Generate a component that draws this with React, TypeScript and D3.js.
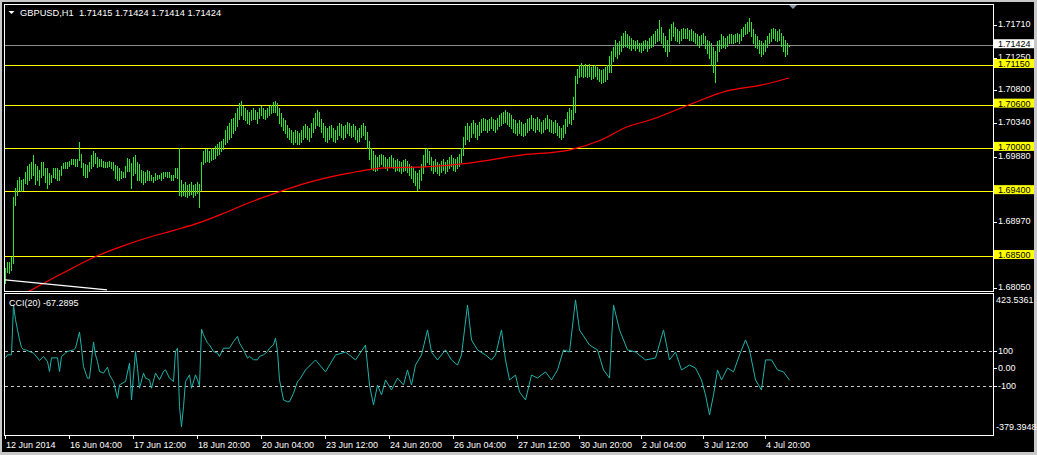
import React from "react";
import * as d3 from "d3";

const W = 1037;
const H = 455;

const symbolTitle = "GBPUSD,H1  1.71415 1.71424 1.71414 1.71424";
const cciTitle = "CCI(20) -67.2895";

const highs = [
  1.6833, 1.6842, 1.6842, 1.6848, 1.6932, 1.6944, 1.6955, 1.6960, 1.6955, 1.6957,
  1.6966, 1.6975, 1.6978, 1.6980, 1.6990, 1.6978, 1.6975, 1.6970, 1.6980, 1.6980,
  1.6972, 1.6972, 1.6965, 1.6962, 1.6972, 1.6972, 1.6972, 1.6970, 1.6975, 1.6979,
  1.6980, 1.6981, 1.6982, 1.6984, 1.6985, 1.6985, 1.6985, 1.7008, 1.6992, 1.6979,
  1.6978, 1.6976, 1.6980, 1.6990, 1.6995, 1.6993, 1.6987, 1.6985, 1.6984, 1.6982,
  1.6980, 1.6980, 1.6982, 1.6980, 1.6980, 1.6976, 1.6975, 1.6972, 1.6968, 1.6966,
  1.6975, 1.6986, 1.6985, 1.6979, 1.6988, 1.6990, 1.6980, 1.6978, 1.6970, 1.6968,
  1.6966, 1.6970, 1.6968, 1.6962, 1.6960, 1.6965, 1.6963, 1.6962, 1.6965, 1.6966,
  1.6966, 1.6967, 1.6966, 1.6962, 1.6963, 1.6972, 1.6972, 1.7000, 1.6955, 1.6950,
  1.6952, 1.6948, 1.6950, 1.6953, 1.6948, 1.6950, 1.6953, 1.6950, 1.6980, 1.6995,
  1.6998, 1.6998, 1.6995, 1.7000, 1.6998, 1.7002, 1.7005, 1.7008, 1.7010, 1.7012,
  1.7025, 1.7030, 1.7035, 1.7040, 1.7042, 1.7048, 1.7055, 1.7062, 1.7065, 1.7058,
  1.7055, 1.7052, 1.7050, 1.7052, 1.7055, 1.7053, 1.7050, 1.7055, 1.7058, 1.7055,
  1.7052, 1.7055, 1.7058, 1.7060, 1.7063, 1.7065, 1.7062, 1.7055, 1.7048, 1.7042,
  1.7038, 1.7032, 1.7028, 1.7025, 1.7022, 1.7025, 1.7023, 1.7020, 1.7025, 1.7030,
  1.7033, 1.7030, 1.7028, 1.7035, 1.7042, 1.7048, 1.7052, 1.7050, 1.7040, 1.7035,
  1.7030, 1.7028, 1.7030, 1.7032, 1.7028, 1.7025, 1.7030, 1.7035, 1.7033, 1.7030,
  1.7032, 1.7036, 1.7035, 1.7030, 1.7033, 1.7030, 1.7025, 1.7028, 1.7032, 1.7035,
  1.7030, 1.7022, 1.7010, 1.7000, 1.6995, 1.6990, 1.6988, 1.6990, 1.6992, 1.6990,
  1.6988, 1.6985, 1.6988, 1.6990, 1.6986, 1.6983, 1.6985, 1.6982, 1.6980, 1.6983,
  1.6985, 1.6982, 1.6978, 1.6975, 1.6972, 1.6968, 1.6965, 1.6970, 1.6978, 1.6990,
  1.6998, 1.7000, 1.6995, 1.6988, 1.6982, 1.6985, 1.6980, 1.6978, 1.6982, 1.6985,
  1.6980, 1.6983, 1.6988, 1.6990, 1.6986, 1.6984, 1.6988, 1.6992, 1.7000, 1.7015,
  1.7030, 1.7035, 1.7030, 1.7035, 1.7038, 1.7035, 1.7032, 1.7036, 1.7040, 1.7042,
  1.7040, 1.7038, 1.7040, 1.7043, 1.7040, 1.7038, 1.7042, 1.7045, 1.7048, 1.7050,
  1.7052, 1.7050, 1.7048, 1.7045, 1.7040, 1.7038, 1.7035, 1.7038, 1.7036, 1.7033,
  1.7035, 1.7040, 1.7042, 1.7045, 1.7042, 1.7040, 1.7043, 1.7040, 1.7036, 1.7038,
  1.7042, 1.7045, 1.7040, 1.7038, 1.7036, 1.7038, 1.7035, 1.7030, 1.7028, 1.7032,
  1.7040, 1.7050, 1.7055, 1.7052, 1.7070, 1.7100, 1.7110, 1.7115, 1.7118, 1.7115,
  1.7116, 1.7114, 1.7116, 1.7112, 1.7113, 1.7115, 1.7112, 1.7110, 1.7108, 1.7110,
  1.7112, 1.7115, 1.7128, 1.7135, 1.7140, 1.7150, 1.7145, 1.7148, 1.7155, 1.7160,
  1.7162, 1.7158, 1.7155, 1.7152, 1.7150, 1.7148, 1.7150, 1.7146, 1.7145, 1.7148,
  1.7150, 1.7148, 1.7152, 1.7155, 1.7158, 1.7162, 1.7165, 1.7178, 1.7168, 1.7160,
  1.7155, 1.7150, 1.7165, 1.7172, 1.7175, 1.7168, 1.7165, 1.7162, 1.7165, 1.7166,
  1.7165, 1.7166, 1.7164, 1.7165, 1.7162, 1.7160, 1.7158, 1.7155, 1.7157, 1.7160,
  1.7155, 1.7150, 1.7148, 1.7145, 1.7140, 1.7135, 1.7148, 1.7150, 1.7158, 1.7155,
  1.7152, 1.7155, 1.7158, 1.7158, 1.7156, 1.7158, 1.7160, 1.7158, 1.7165, 1.7168,
  1.7172, 1.7175, 1.7180, 1.7175, 1.7165, 1.7158, 1.7155, 1.7150, 1.7148, 1.7145,
  1.7150, 1.7155, 1.7160, 1.7165, 1.7166, 1.7165, 1.7162, 1.7165, 1.7160, 1.7155,
  1.7150, 1.7145, 1.71424,
];

const lows = [
  1.6812, 1.6828, 1.6826, 1.6831, 1.6840, 1.6921, 1.6935, 1.6942, 1.6940, 1.6942,
  1.6951, 1.6950, 1.6955, 1.6958, 1.6962, 1.6950, 1.6955, 1.6948, 1.6960, 1.6962,
  1.6952, 1.6945, 1.6950, 1.6953, 1.6960, 1.6958, 1.6955, 1.6956, 1.6963, 1.6972,
  1.6972, 1.6972, 1.6975, 1.6977, 1.6978, 1.6975, 1.6975, 1.6983, 1.6973, 1.6962,
  1.6960, 1.6960, 1.6968, 1.6972, 1.6975, 1.6979, 1.6973, 1.6975, 1.6975, 1.6973,
  1.6973, 1.6973, 1.6975, 1.6972, 1.6970, 1.6958, 1.6956, 1.6955, 1.6958, 1.6960,
  1.6960, 1.6968, 1.6968, 1.6944, 1.6962, 1.6965, 1.6955, 1.6955, 1.6952, 1.6950,
  1.6952, 1.6955, 1.6955, 1.6955, 1.6953, 1.6955, 1.6957, 1.6958, 1.6956, 1.6958,
  1.6961, 1.6960, 1.6959, 1.6955, 1.6955, 1.6959, 1.6958, 1.6935, 1.6933, 1.6935,
  1.6933, 1.6932, 1.6935, 1.6936, 1.6932, 1.6935, 1.6938, 1.6918, 1.6942, 1.6978,
  1.6980, 1.6982, 1.6980, 1.6983, 1.6985, 1.6986, 1.6990, 1.6992, 1.6995, 1.6998,
  1.7005, 1.7008, 1.7012, 1.7015, 1.7020, 1.7025, 1.7030, 1.7040, 1.7045, 1.7040,
  1.7038, 1.7035, 1.7033, 1.7038, 1.7040, 1.7040, 1.7035, 1.7042, 1.7045, 1.7042,
  1.7040, 1.7043, 1.7045, 1.7048, 1.7050, 1.7050, 1.7045, 1.7035, 1.7030, 1.7025,
  1.7020, 1.7015, 1.7012, 1.7008, 1.7005, 1.7008, 1.7006, 1.7005, 1.7008, 1.7012,
  1.7015, 1.7012, 1.7010, 1.7015, 1.7022, 1.7028, 1.7032, 1.7030, 1.7022, 1.7015,
  1.7010, 1.7008, 1.7012, 1.7015, 1.7010, 1.7008, 1.7012, 1.7018, 1.7015, 1.7012,
  1.7015, 1.7020, 1.7018, 1.7015, 1.7016, 1.7012, 1.7008, 1.7010, 1.7015, 1.7018,
  1.7012, 1.7000, 1.6985, 1.6972, 1.6970, 1.6968, 1.6970, 1.6975, 1.6978, 1.6975,
  1.6972, 1.6970, 1.6973, 1.6975, 1.6972, 1.6968, 1.6970, 1.6968, 1.6965, 1.6968,
  1.6970, 1.6966, 1.6962, 1.6958, 1.6952, 1.6948, 1.6942, 1.6945, 1.6955, 1.6965,
  1.6975, 1.6980, 1.6978, 1.6970, 1.6965, 1.6968, 1.6965, 1.6962, 1.6966, 1.6970,
  1.6965, 1.6968, 1.6972, 1.6975, 1.6970, 1.6968, 1.6972, 1.6975, 1.6980, 1.6990,
  1.7005, 1.7012, 1.7010, 1.7015, 1.7020, 1.7015, 1.7012, 1.7018, 1.7022, 1.7025,
  1.7025, 1.7022, 1.7025, 1.7028, 1.7025, 1.7022, 1.7026, 1.7030, 1.7032, 1.7035,
  1.7036, 1.7033, 1.7030, 1.7028, 1.7022, 1.7020, 1.7018, 1.7020, 1.7018, 1.7016,
  1.7018, 1.7022, 1.7025, 1.7028, 1.7025, 1.7022, 1.7026, 1.7024, 1.7020, 1.7022,
  1.7026, 1.7028, 1.7024, 1.7022, 1.7020, 1.7022, 1.7018, 1.7015, 1.7012, 1.7015,
  1.7020, 1.7030, 1.7035, 1.7033, 1.7040, 1.7050, 1.7090, 1.7098, 1.7100, 1.7098,
  1.7100, 1.7098, 1.7100, 1.7096, 1.7097, 1.7100, 1.7095, 1.7093, 1.7090, 1.7092,
  1.7093, 1.7095, 1.7105, 1.7105, 1.7120, 1.7128, 1.7125, 1.7130, 1.7135, 1.7140,
  1.7142, 1.7140, 1.7138, 1.7136, 1.7138, 1.7136, 1.7138, 1.7135, 1.7133, 1.7136,
  1.7138, 1.7135, 1.7138, 1.7140, 1.7142, 1.7145, 1.7148, 1.7150, 1.7145, 1.7140,
  1.7135, 1.7128, 1.7135, 1.7150, 1.7155, 1.7150, 1.7148, 1.7146, 1.7150, 1.7152,
  1.7152, 1.7153, 1.7150, 1.7150, 1.7148, 1.7145, 1.7143, 1.7140, 1.7143, 1.7145,
  1.7138, 1.7132, 1.7125, 1.7115, 1.7105, 1.7092, 1.7120, 1.7135, 1.7138, 1.7140,
  1.7138, 1.7142, 1.7145, 1.7146, 1.7145, 1.7147, 1.7148, 1.7146, 1.7150, 1.7155,
  1.7158, 1.7160, 1.7162, 1.7155, 1.7145, 1.7140, 1.7138, 1.7132, 1.7128, 1.7130,
  1.7135, 1.7140, 1.7145, 1.7148, 1.7152, 1.7150, 1.7148, 1.7150, 1.7142, 1.7135,
  1.7128, 1.7130, 1.71414,
];

// Moving average (red) read at selected bars
const maIdx = [12, 28, 46, 58, 72, 85, 98, 110, 122, 135, 148, 160, 172, 188, 212, 232, 258, 282, 298, 310, 324, 344, 361, 378, 392];
const maVals = [1.6801, 1.6825, 1.6850, 1.6863, 1.6876, 1.6886, 1.6897, 1.6910, 1.6924, 1.6937, 1.6949, 1.6958, 1.6965, 1.6972, 1.6974, 1.6979, 1.6990, 1.6997, 1.7011, 1.7028, 1.7040, 1.7062, 1.7079, 1.7087, 1.7097];

// White line near bottom-left
const wIdx = [0, 51];
const wVals = [1.6817, 1.6803];

// CCI(20) read at selected bars
const cciIdx = [
  0, 1, 3, 4, 5, 6, 7, 8, 9, 10, 12, 14, 16, 17, 19, 21, 22, 23, 26, 27, 28, 30, 31, 34, 35, 37, 38, 39, 41, 42,
  44, 45, 46, 47, 49, 51, 52, 54, 56, 57, 60, 62, 63, 65, 66, 67, 69, 70, 72, 73, 75, 77, 79, 80, 82, 84, 85, 86, 87, 88,
  89, 90, 92, 93, 95, 96, 97, 98, 99, 101, 102, 104, 106, 107, 109, 111, 112, 114, 116, 117, 119, 121, 122, 124, 126, 127, 129, 131, 132, 134,
  135, 136, 137, 139, 141, 142, 144, 146, 147,
  150, 155, 160, 165, 170, 175, 180, 182, 184, 186, 188, 190, 193, 196, 199, 201, 203, 205, 208, 211,
  213, 216, 220, 223, 226, 228, 231, 233, 236, 240, 243, 245, 248, 250, 252, 255, 257, 260, 263, 266,
  270, 273, 276, 279, 282, 285, 287, 292, 296, 299, 302, 304, 307, 311, 315, 320, 325, 329, 332, 335,
  338, 342, 345, 348, 350, 352, 354, 356, 358, 361, 364, 367, 370, 372, 375, 378, 380, 383, 386, 389, 392,
];
const cciVals = [
  60, 77, 77, 362, 277, 220, 163, 120, 106, 106, 96, 87, 60, 45, 68, 39, -18, 60, 60, -18, 68, 87, 96, 106, 115, 207, 115, 10, -56, -56,
  150, 77, 39, -18, -27, 7, -37, -75, -170, -94, -75, 30, -180, 96, 1, -113, -27, -56, -65, -113, -27, -65, -18, -8, -56, -75, 96, 115, -218, -332,
  -218, -75, -37, -113, -37, -65, -100, 224, 191, 144, 134, 96, 87, 68, 115, 115, 115, 153, 182, 144, 106, 58, 68, 49, 49, 68, 77, 96, 115, 134,
  172, 96, -65, -180, -190, -190, -142, -75, -65,
  -9, 48, -20, 76, 93, 48, 133, -95, -208, -95, -151, -66, -123, -55, -95, -9, -95, 19, 76, 219,
  93, 48, 105, 48, 19, 76, 361, 162, 105, 76, 48, 76, 219, 48, -66, -38, -134, -180, -38, -55,
  -20, -66, -9, 105, 93, 390, 219, 133, 105, -9, -55, 361, 219, 105, 93, 48, 59, 219, 48, 93,
  -9, 19, 2, -66, -151, -265, -151, -9, -66, 2, -20, 76, 162, 105, -66, -123, 48, 48, -9, -20, -67.2895,
];

const priceTicks = [1.7171, 1.7125, 1.708, 1.7034, 1.6988, 1.6897, 1.6805];
const levels = [1.7115, 1.706, 1.7, 1.694, 1.685];
const currentPrice = 1.71424;

const cciLevels = [100, -100];
const cciTickVals = [100, 0, -100];
const cciTickLabels = ["100", "0.00", "-100"];
const cciMax = 423.5361;
const cciMin = -379.3948;

const timeIdx = [0, 32, 64, 96, 128, 160, 192, 224, 256, 287, 318, 349, 380];
const timeLabels = [
  "12 Jun 2014", "16 Jun 04:00", "17 Jun 12:00", "18 Jun 20:00", "20 Jun 04:00", "23 Jun 12:00",
  "24 Jun 20:00", "26 Jun 04:00", "27 Jun 12:00", "30 Jun 20:00", "2 Jul 04:00", "3 Jul 12:00", "4 Jul 20:00",
];

const FONT = "'Liberation Sans', Arial, sans-serif";

export default function App() {
  const left = 4.5;
  const right = 993.5;
  const mainTop = 4.5;
  const mainBottom = 291.5;
  const cciTop = 293.5;
  const cciBottom = 435.5;

  const x = d3.scaleLinear().domain([0, 392]).range([5, 789]);
  const yP = d3.scaleLinear().domain([1.68015, 1.71982]).range([291, 5]);
  const yC = d3.scaleLinear().domain([cciMin, cciMax]).range([435, 294]);

  const barPath = highs
    .map((h, i) => `M${x(i) + 0.5},${Math.round(yP(h))}V${Math.round(yP(lows[i])) + 1}`)
    .join("");

  const maLine = d3
    .line<number>()
    .x((_, i) => x(maIdx[i]))
    .y((v) => yP(v))
    .curve(d3.curveMonotoneX)(maVals) as string;

  const wLine = d3
    .line<number>()
    .x((_, i) => x(wIdx[i]))
    .y((v) => yP(v))(wVals) as string;

  const cciLine = d3
    .line<number>()
    .x((_, i) => x(cciIdx[i]) + 0.5)
    .y((v) => yC(v))(cciVals) as string;

  const axisX = 994;
  const labelX = 998;

  return (
    <div style={{ position: "absolute", left: 0, top: 0 }}>
      <svg width={W} height={H} style={{ display: "block" }} fontFamily={FONT}>
        <defs>
          <clipPath id="clipMain">
            <rect x={5} y={5} width={988} height={286} />
          </clipPath>
          <clipPath id="clipCci">
            <rect x={5} y={294} width={988} height={141} />
          </clipPath>
        </defs>
        <rect x={0} y={0} width={W} height={H} fill="#c8c8c8" />
        <rect x={2} y={2} width={1032} height={450} fill="#000" />

        {/* main panel */}
        <g clipPath="url(#clipMain)">
          {levels.map((lv) => (
            <line key={lv} x1={5} x2={993} y1={Math.round(yP(lv)) + 0.5} y2={Math.round(yP(lv)) + 0.5} stroke="#ffff00" strokeWidth={1} shapeRendering="crispEdges" />
          ))}
          <line x1={5} x2={993} y1={Math.round(yP(currentPrice)) + 0.5} y2={Math.round(yP(currentPrice)) + 0.5} stroke="#8c8c8c" strokeWidth={1} shapeRendering="crispEdges" />
          <path d={barPath} stroke="#2ee62e" strokeWidth={1} fill="none" shapeRendering="crispEdges" />
          <path d={maLine} stroke="#ff0000" strokeWidth={1.2} fill="none" />
          <path d={wLine} stroke="#ffffff" strokeWidth={1.2} fill="none" />
        </g>
        <rect x={left} y={mainTop} width={right - left} height={mainBottom - mainTop} fill="none" stroke="#fff" strokeWidth={1} />
        <path d="M789,5 L797,5 L793,9 Z" fill="#8a96a6" />

        {/* title */}
        <path d="M8.5,11 L14.5,11 L11.5,14 Z" fill="#fff" />
        <text x={20} y={16} fontSize={9.3} fill="#fff" style={{ whiteSpace: "pre" }}>
          {symbolTitle}
        </text>

        {/* price axis */}
        {priceTicks.map((p) => (
          <g key={p}>
            <line x1={axisX} x2={axisX + 3} y1={Math.round(yP(p)) + 0.5} y2={Math.round(yP(p)) + 0.5} stroke="#fff" />
            <text x={labelX} y={yP(p) + 2} fontSize={9} fill="#fff">
              {p.toFixed(5)}
            </text>
          </g>
        ))}
        {levels.map((lv) => (
          <g key={"l" + lv}>
            <rect x={994} y={yP(lv) - 6} width={40} height={9} fill="#ffff00" />
            <text x={labelX} y={yP(lv) + 2} fontSize={9} fill="#000">
              {lv.toFixed(5)}
            </text>
          </g>
        ))}
        <rect x={994} y={yP(currentPrice) - 6} width={40} height={9} fill="#fff" />
        <text x={labelX} y={yP(currentPrice) + 2} fontSize={9} fill="#000">
          {currentPrice.toFixed(5)}
        </text>

        {/* CCI panel */}
        <g clipPath="url(#clipCci)">
          {cciLevels.map((lv) => (
            <line key={lv} x1={5} x2={993} y1={Math.round(yC(lv)) + 0.5} y2={Math.round(yC(lv)) + 0.5} stroke="#c8c8c8" strokeDasharray="3,3" />
          ))}
          <path d={cciLine} stroke="#20b2aa" strokeWidth={1} fill="none" />
        </g>
        <rect x={left} y={cciTop} width={right - left} height={cciBottom - cciTop} fill="none" stroke="#fff" strokeWidth={1} />
        <text x={9} y={306} fontSize={9} fill="#fff">
          {cciTitle}
        </text>
        {cciTickVals.map((v, i) => (
          <g key={v}>
            <line x1={axisX} x2={axisX + 3} y1={Math.round(yC(v)) + 0.5} y2={Math.round(yC(v)) + 0.5} stroke="#fff" />
            <text x={labelX} y={yC(v) + 3} fontSize={9} fill="#fff">
              {cciTickLabels[i]}
            </text>
          </g>
        ))}
        <text x={996} y={303} fontSize={9} fill="#fff">
          {cciMax.toFixed(4)}
        </text>
        <text x={996} y={430} fontSize={9} fill="#fff">
          {cciMin.toFixed(4)}
        </text>

        {/* time axis */}
        {timeIdx.map((ti, i) => (
          <g key={ti}>
            <line x1={x(ti) + 0.5} x2={x(ti) + 0.5} y1={435} y2={439} stroke="#fff" />
            <text x={x(ti) + 1} y={448} fontSize={9} fill="#fff">
              {timeLabels[i]}
            </text>
          </g>
        ))}
      </svg>
    </div>
  );
}
